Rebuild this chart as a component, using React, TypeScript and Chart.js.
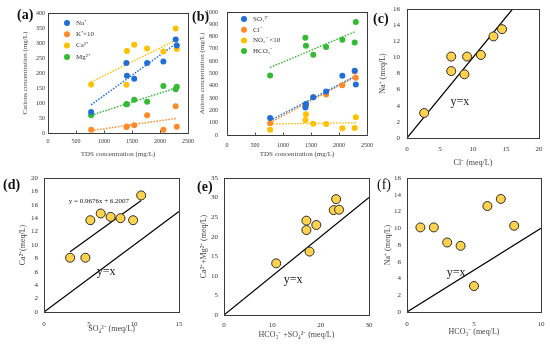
import React, { useEffect, useRef } from 'react';
import { Chart, registerables } from 'chart.js';
Chart.register(...registerables);

const SERIF = '"Liberation Serif", "Times New Roman", serif';

// ---- (a) cations vs TDS ----
const tdsX = [770, 1400, 1410, 1540, 1770, 2060, 2280, 2300];
const naA = [70, 233, 191, 181, 233, 238, 312, 292];
const k10A = [11, 20, 22, 26, 59, 11, 89, 21];
const caA = [162, 161, 273, 294, 282, 272, 348, 280];
const mgA = [59, 96, 96, 111, 104, 157, 146, 154];
const trendX = [770, 2300];
const naTrend = [94, 300];
const k10Trend = [8, 49];
const caTrend = [170, 311];
const mgTrend = [59, 151];

// ---- (b) anions vs TDS ----
const so4B = [139, 223, 253, 307, 353, 481, 522, 410];
const clB = [95, 236, 242, 307, 329, 405, 516, 465];
const no310B = [43, 122, 168, 92, 90, 54, 57, 144];
const hco3B = [484, 791, 726, 652, 715, 774, 753, 918];
const so4Trend = [117, 481];
const clTrend = [100, 475];
const no3Trend = [90, 100];
const hco3Trend = [549, 842];

// ---- (c) Na vs Cl ----
const clC = [2.6, 6.7, 6.7, 8.7, 9.1, 11.2, 13.1, 14.4];
const naC = [3.1, 10.1, 8.3, 7.9, 10.1, 10.3, 12.6, 13.5];
const yxC = [0, 16];

// ---- (d) Ca vs SO4 ----
const so4D = [2.9, 4.6, 5.15, 6.3, 7.4, 8.5, 9.9, 10.8];
const caD = [8.1, 8.1, 13.7, 14.7, 14.2, 14.0, 13.7, 17.4];
const yxD = [0, 15];
const dSlope = 0.9676;
const dIntercept = 6.2007;
const dTrendX = [2.9, 10.8];

// ---- (e) Ca+Mg vs HCO3+SO4 ----
const sumAnE = [10.8, 17.05, 17.05, 17.7, 19.1, 22.7, 23.2, 23.8];
const sumCatE = [13.2, 24.1, 21.7, 16.2, 23.0, 26.8, 29.6, 26.9];
const yxE = [0, 30];

// ---- (f) Na vs HCO3 ----
const hco3F = [1, 2, 3, 4, 5, 6, 7, 8];
const naF = [10.1, 10.1, 8.3, 7.9, 3.1, 12.65, 13.5, 10.3];
const yxF = [0, 10];

const BLUE = '#1F6FD6';
const ORANGE = '#FF8A2A';
const GOLD = '#FFC000';
const GREEN = '#33BB33';

const pts = (xs: number[], ys: number[]) => xs.map((x, i) => ({ x, y: ys[i] }));
const dots = (xs: number[], ys: number[], color: string) => ({
  data: pts(xs, ys), showLine: false, pointRadius: 3, pointHoverRadius: 3,
  backgroundColor: color, borderColor: color, borderWidth: 0,
});
const trend = (xs: number[], ys: number[], color: string) => ({
  data: pts(xs, ys), showLine: true, pointRadius: 0, borderColor: color,
  borderWidth: 1.5, borderDash: [1.5, 1.5], fill: false,
});
const yellow = (xs: number[], ys: number[]) => ({
  data: pts(xs, ys), showLine: false, pointRadius: 4.5, pointHoverRadius: 4.5,
  backgroundColor: '#FFD24D', borderColor: '#2b2b2b', borderWidth: 1,
});
const solid = (xs: number[], ys: number[]) => ({
  data: pts(xs, ys), showLine: true, pointRadius: 0, borderColor: '#000',
  borderWidth: 1.2, fill: false,
});

interface Spec {
  L: number; T: number; W: number; H: number;
  yWidth: number; xHeight: number; padTop: number; padRight: number;
  x: [number, number, number]; y: [number, number, number];
  tick: number; titleSize: number; xPad: number; yPad: number;
  xTitle: string; yTitle: string; yTitleX: number; xTitleY: number;
  datasets: any[];
  legend?: { x: number; y0: number; dy: number; items: { label: string; color: string }[] };
  texts?: { x: number; y: number; text: string; size: number }[];
  innerTicks?: boolean;
}

const specs: Spec[] = [
  {
    L: 0, T: 0, W: 200, H: 170, yWidth: 48, xHeight: 37, padTop: 13, padRight: 12,
    x: [0, 2500, 500], y: [0, 400, 50], tick: 6, titleSize: 7, xPad: 5, yPad: 3,
    xTitle: 'TDS concentration (mg/L)', yTitle: 'Cations concentration (mg/L)',
    yTitleX: 25, xTitleY: 154, innerTicks: true,
    datasets: [
      dots(tdsX, naA, BLUE), dots(tdsX, k10A, ORANGE), dots(tdsX, caA, GOLD), dots(tdsX, mgA, GREEN),
      trend(trendX, naTrend, BLUE), trend(trendX, k10Trend, ORANGE), trend(trendX, caTrend, GOLD), trend(trendX, mgTrend, GREEN),
    ],
    legend: { x: 67, y0: 23, dy: 11.3, items: [
      { label: 'Na⁺', color: BLUE }, { label: 'K⁺×10', color: ORANGE },
      { label: 'Ca²⁺', color: GOLD }, { label: 'Mg²⁺', color: GREEN }] },
  },
  {
    L: 190, T: 0, W: 190, H: 170, yWidth: 37, xHeight: 35, padTop: 12, padRight: 13,
    x: [0, 2500, 500], y: [0, 1000, 100], tick: 6, titleSize: 7, xPad: 7, yPad: 9,
    xTitle: 'TDS concentration (mg/L)', yTitle: 'Anions concentration (mg/L)',
    yTitleX: 12, xTitleY: 154, innerTicks: true,
    datasets: [
      dots(tdsX, so4B, BLUE), dots(tdsX, clB, ORANGE), dots(tdsX, no310B, GOLD), dots(tdsX, hco3B, GREEN),
      trend(trendX, so4Trend, BLUE), trend(trendX, clTrend, ORANGE), trend(trendX, no3Trend, GOLD), trend(trendX, hco3Trend, GREEN),
    ],
    legend: { x: 54, y0: 19, dy: 10.7, items: [
      { label: 'SO₄²⁻', color: BLUE }, { label: 'Cl⁻', color: ORANGE },
      { label: 'NO₃⁻ ×10', color: GOLD }, { label: 'HCO₃⁻', color: GREEN }] },
  },
  {
    L: 370, T: 0, W: 180, H: 170, yWidth: 37, xHeight: 32, padTop: 9, padRight: 11,
    x: [0, 20, 5], y: [0, 16, 2], tick: 7, titleSize: 8, xPad: 7, yPad: 7,
    xTitle: 'Cl⁻ (meq/L)', yTitle: 'Na⁺ (meq/L)', yTitleX: 13, xTitleY: 163,
    datasets: [yellow(clC, naC), solid(yxC, yxC)],
    texts: [{ x: 8.0, y: 4.5, text: 'y=x', size: 12 }],
  },
  {
    L: 0, T: 170, W: 195, H: 174, yWidth: 44, xHeight: 32, padTop: 8, padRight: 16,
    x: [0, 15, 5], y: [0, 20, 2], tick: 7, titleSize: 8, xPad: 8, yPad: 6,
    xTitle: 'SO₄²⁻ (meq/L)', yTitle: 'Ca²⁺(meq/L)', yTitleX: 23, xTitleY: 159,
    datasets: [
      yellow(so4D, caD), solid(yxD, yxD),
      solid(dTrendX, dTrendX.map((v) => dSlope * v + dIntercept)),
    ],
    texts: [
      { x: 6.9, y: 6.0, text: 'y=x', size: 12 },
      { x: 6.1, y: 16.6, text: 'y = 0.9676x + 6.2007', size: 7 },
    ],
  },
  {
    L: 190, T: 170, W: 190, H: 174, yWidth: 34, xHeight: 29, padTop: 8, padRight: 11,
    x: [0, 30, 10], y: [0, 35, 5], tick: 7, titleSize: 8, xPad: 6, yPad: 6,
    xTitle: 'HCO₃⁻ +SO₄²⁻ (meq/L)', yTitle: 'Ca²⁺+Mg²⁺ (meq/L)', yTitleX: 14, xTitleY: 165,
    datasets: [yellow(sumAnE, sumCatE), solid(yxE, yxE)],
    texts: [{ x: 14.3, y: 8.9, text: 'y=x', size: 12 }],
  },
  {
    L: 370, T: 170, W: 180, H: 174, yWidth: 37, xHeight: 32, padTop: 8, padRight: 9,
    x: [0, 10, 5], y: [0, 16, 2], tick: 7, titleSize: 8, xPad: 8, yPad: 6,
    xTitle: 'HCO₃⁻ (meq/L)', yTitle: 'Na⁺ (meq/L)', yTitleX: 18, xTitleY: 162,
    datasets: [yellow(hco3F, naF), solid(yxF, yxF)],
    texts: [{ x: 3.66, y: 4.66, text: 'y=x', size: 12 }],
  },
];

const panelLabels = [
  { t: '(a)', x: 17, y: 15, bold: true },
  { t: '(b)', x: 192, y: 17, bold: true },
  { t: '(c)', x: 373, y: 19, bold: true },
  { t: '(d)', x: 3, y: 185, bold: true },
  { t: '(e)', x: 197, y: 187, bold: true },
  { t: '(f)', x: 377, y: 185, bold: false },
];

const plain = (v: any) => String(v);

function build(canvas: HTMLCanvasElement, s: Spec) {
  const lhT = s.titleSize * 1.2;
  const decor = {
    id: 'decor',
    afterDraw(chart: any) {
      const { ctx, chartArea: a, scales } = chart;
      ctx.save();
      ctx.strokeStyle = '#3a3a3a';
      ctx.lineWidth = 1;
      const l = Math.round(a.left) + 0.5, t = Math.round(a.top) + 0.5;
      const r = Math.round(a.right) + 0.5, b = Math.round(a.bottom) + 0.5;
      ctx.strokeRect(l, t, r - l, b - t);
      if (s.innerTicks) {
        ctx.strokeStyle = '#555';
        for (const tk of scales.x.ticks) {
          const px = Math.round(scales.x.getPixelForValue(tk.value)) + 0.5;
          ctx.beginPath(); ctx.moveTo(px, b); ctx.lineTo(px, b - 3); ctx.stroke();
        }
      }
      if (s.legend) {
        const lg = s.legend;
        ctx.font = `7px ${SERIF}`;
        ctx.textBaseline = 'middle';
        ctx.textAlign = 'left';
        lg.items.forEach((it, i) => {
          const y = lg.y0 + i * lg.dy;
          ctx.fillStyle = it.color;
          ctx.beginPath(); ctx.arc(lg.x, y, 3, 0, Math.PI * 2); ctx.fill();
          ctx.fillStyle = '#333';
          ctx.fillText(it.label, lg.x + 9, y);
        });
      }
      if (s.texts) {
        ctx.textAlign = 'center';
        ctx.textBaseline = 'middle';
        ctx.fillStyle = '#222';
        for (const tx of s.texts) {
          ctx.font = `${tx.size}px ${SERIF}`;
          ctx.fillText(tx.text, scales.x.getPixelForValue(tx.x), scales.y.getPixelForValue(tx.y));
        }
      }
      ctx.restore();
    },
  };
  return new Chart(canvas, {
    type: 'scatter',
    data: { datasets: s.datasets },
    plugins: [decor],
    options: {
      responsive: false,
      animation: false,
      devicePixelRatio: 1,
      layout: { padding: { left: 0, top: s.padTop, right: s.padRight, bottom: 0 } },
      plugins: { legend: { display: false }, tooltip: { enabled: false } },
      scales: {
        x: {
          type: 'linear', min: s.x[0], max: s.x[1],
          ticks: { stepSize: s.x[2], autoSkip: false, maxRotation: 0, padding: s.xPad, color: '#333', callback: plain, font: { family: SERIF, size: s.tick } },
          grid: { display: false, drawTicks: false },
          border: { display: false },
          title: {
            display: true, text: s.xTitle, color: '#444',
            font: { family: SERIF, size: s.titleSize },
            padding: { top: 0, bottom: s.H - s.xTitleY - lhT / 2 },
          },
          afterFit: (sc: any) => { sc.height = s.xHeight; sc.paddingLeft = 0; sc.paddingRight = 0; },
        },
        y: {
          type: 'linear', min: s.y[0], max: s.y[1],
          ticks: { stepSize: s.y[2], autoSkip: false, padding: s.yPad, color: '#333', callback: plain, font: { family: SERIF, size: s.tick } },
          grid: { display: false, drawTicks: false },
          border: { display: false },
          title: {
            display: true, text: s.yTitle, color: '#444',
            font: { family: SERIF, size: s.titleSize },
            padding: { top: s.yTitleX - lhT / 2, bottom: 0 },
          },
          afterFit: (sc: any) => { sc.width = s.yWidth; sc.paddingTop = 0; sc.paddingBottom = 0; },
        },
      },
    } as any,
  });
}

export default function App() {
  const refs = useRef<(HTMLCanvasElement | null)[]>([]);
  useEffect(() => {
    const charts = specs.map((s, i) => build(refs.current[i]!, s));
    return () => charts.forEach((c) => c.destroy());
  }, []);
  return (
    <div style={{ position: 'fixed', left: 0, top: 0, width: 550, height: 344, background: '#fff', overflow: 'hidden' }}>
      {specs.map((s, i) => (
        <canvas
          key={i}
          ref={(el) => { refs.current[i] = el; }}
          width={s.W}
          height={s.H}
          style={{ position: 'absolute', left: s.L, top: s.T, width: s.W, height: s.H }}
        />
      ))}
      {panelLabels.map((p, i) => (
        <div
          key={'l' + i}
          style={{
            position: 'absolute', left: p.x, top: p.y - 8, height: 16, lineHeight: '16px',
            fontFamily: SERIF, fontSize: 14, fontWeight: p.bold ? 'bold' : 'normal', color: '#111', whiteSpace: 'nowrap',
          }}
        >
          {p.t}
        </div>
      ))}
    </div>
  );
}
